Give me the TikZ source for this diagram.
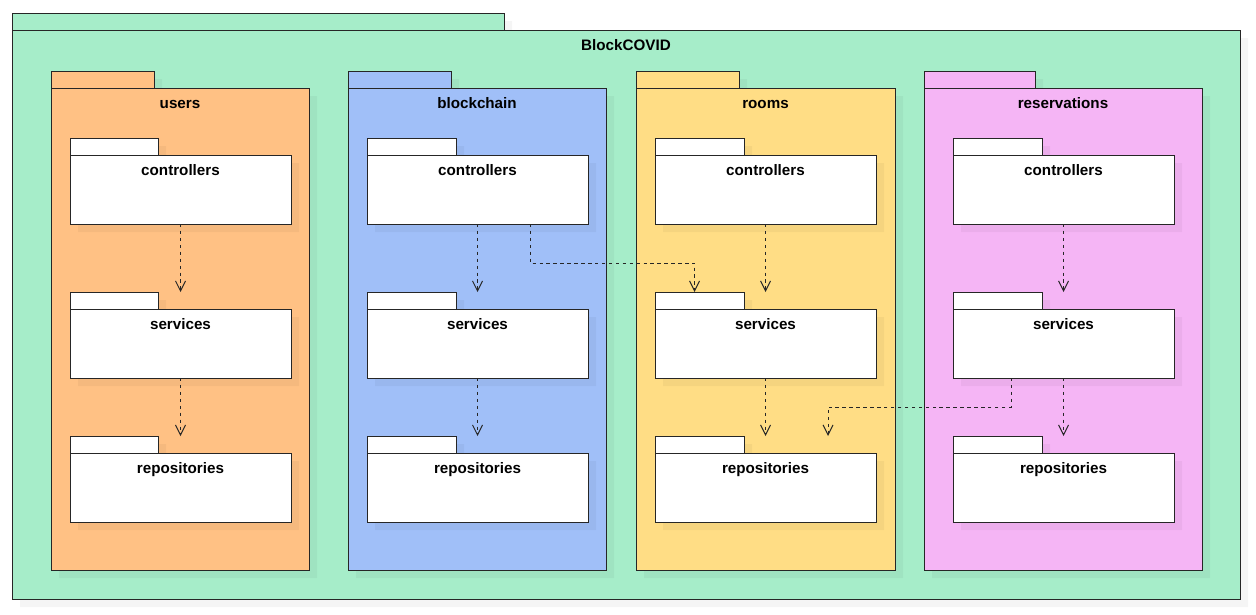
\documentclass[tikz,border=0pt]{standalone}
\usepackage{fontspec}
\setmainfont{Liberation Sans}
\usetikzlibrary{positioning, calc, arrows.meta}

\definecolor{covidgreen}{HTML}{A6EDC9}
\definecolor{usersorange}{HTML}{FFC184}
\definecolor{chainblue}{HTML}{A0BFF8}
\definecolor{roomsyellow}{HTML}{FFDD85}
\definecolor{resvpink}{HTML}{F5B5F5}

\tikzset{
  pkgshadow/.style={fill=black, fill opacity=0.04},
  pkgtab/.style={draw=black!85, line width=0.75pt, rectangle, anchor=south west,
    inner sep=0pt, outer sep=0pt, minimum height=12.75pt},
  pkgbody/.style={draw=black!85, line width=0.75pt, rectangle, anchor=north west,
    inner sep=0pt, outer sep=0pt},
  pkglabel/.style={font=\fontsize{11.4}{13}\selectfont\bfseries, inner sep=0pt, anchor=base},
  dep/.style={draw=black!85, line width=0.75pt, dash pattern=on 2.6pt off 2.6pt,
    -{Straight Barb[length=7.5pt, width=7.5pt, line width=0.75pt]}}
}

% package: name, x, body top, width, height, tab width, fill, label
\newcommand{\pkg}[8]{%
  \fill[pkgshadow] (#2+8,#3-9) rectangle ++(#6,17) (#2+8,#3+8) rectangle ++(#4,#5);
  \node[pkgtab, fill=#7, minimum width={#6*0.75pt}] (#1-tab) at (#2,#3) {};
  \node[pkgbody, fill=#7, minimum width={#4*0.75pt}, minimum height={#5*0.75pt}] (#1) at (#2,#3) {};
  \node[pkglabel] (#1-label) at ($(#1.north)+(0,20)$) {#8};
}

\begin{document}
\begin{tikzpicture}[x=0.75pt, y=-0.75pt]
  \useasboundingbox (0,0) rectangle (1256,614);

  % Outer package
  \pkg{covid}{12}{30}{1228}{569}{492}{covidgreen}{BlockCOVID}

  % Module packages with their layers
  \foreach \col/\cx/\w/\tw/\c/\ix/\itw in {users/51/258/103/usersorange/70/88,
      blockchain/348/258/103/chainblue/367/89,
      rooms/636/259/103/roomsyellow/655/89,
      reservations/924/278/111/resvpink/953/89} {
    \pkg{\col}{\cx}{88}{\w}{482}{\tw}{\c}{\col}
    \pkg{\col-ctl}{\ix}{155}{221}{69}{\itw}{white}{controllers}
    \pkg{\col-svc}{\ix}{309}{221}{69}{\itw}{white}{services}
    \pkg{\col-rep}{\ix}{453}{221}{69}{\itw}{white}{repositories}
  }

  % Dependencies inside each module
  \foreach \col in {users, blockchain, rooms, reservations} {
    \draw[dep] (\col-ctl.south) -- (\col-ctl.south |- \col-svc-tab.north);
    \draw[dep] (\col-svc.south) -- (\col-svc.south |- \col-rep-tab.north);
  }

  % Dependencies between modules
  \draw[dep] ($(blockchain-ctl.south west)+(163,0)$) -- ++(0,39)
    -| ($(rooms-svc-tab.north)+(-5,0)$);
  \draw[dep] ($(reservations-svc.south west)+(58,0)$) -- ++(0,29)
    -| ($(rooms-rep-tab.north west)+(173,0)$);
\end{tikzpicture}
\end{document}
